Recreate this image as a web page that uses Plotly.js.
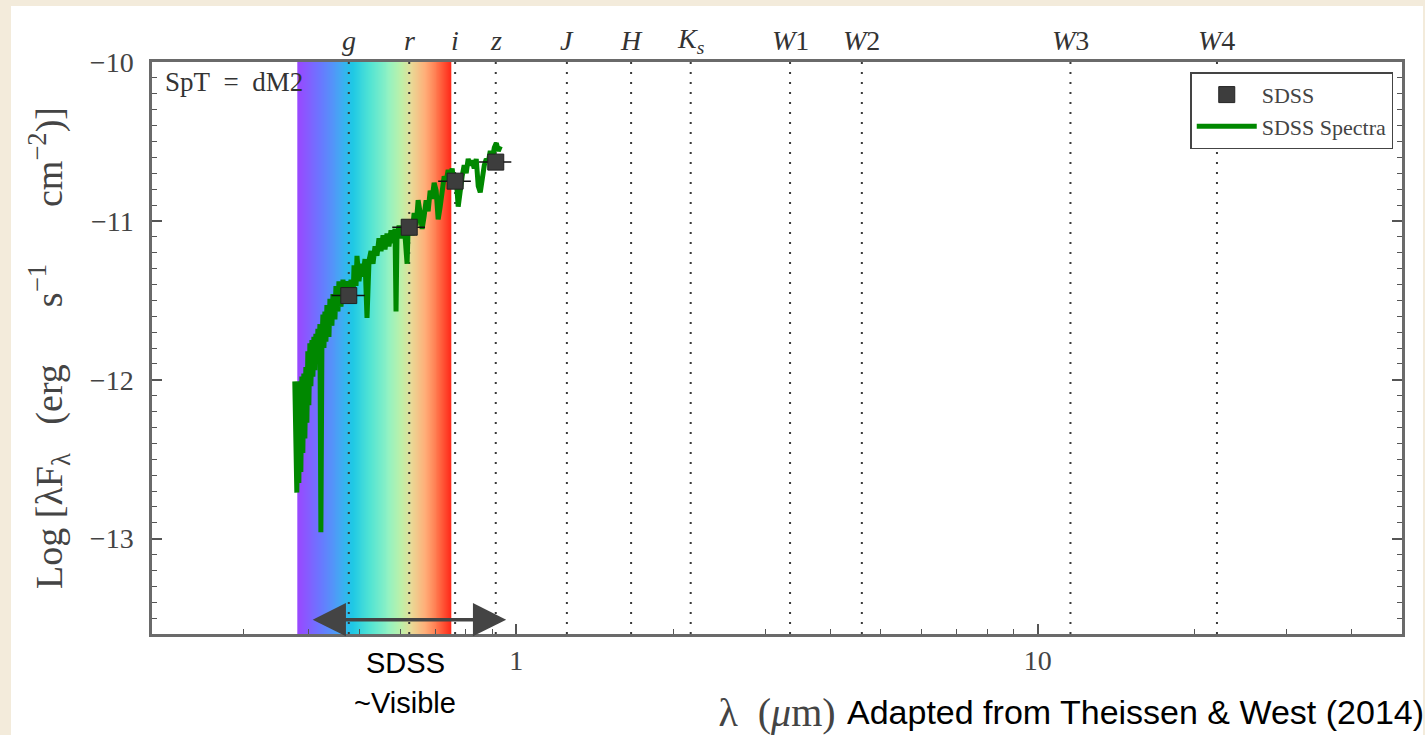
<!DOCTYPE html>
<html><head><meta charset="utf-8">
<script src="https://cdn.plot.ly/plotly-3.0.1.min.js"></script>
<style>
html,body{margin:0;padding:0;background:#f3ebdb;width:1425px;height:735px;overflow:hidden;}
#chart{position:absolute;left:11px;top:6px;width:1412px;height:729px;}
</style></head><body><div id="chart"></div>
<script>
// ---- data ----
const specWave = [0.3758,0.3775,0.3792,0.3809,0.3826,0.3843,0.3860,0.3877,0.3894,0.3911,0.3929,0.3946,0.3964,0.3981,0.3999,0.4017,0.4035,0.4053,0.4071,0.4089,0.4107,0.4125,0.4144,0.4162,0.4181,0.4199,0.4217,0.4236,0.4255,0.4274,0.4293,0.4312,0.4331,0.4370,0.4389,0.4428,0.4448,0.4487,0.4507,0.4547,0.4567,0.4608,0.4649,0.4690,0.4732,0.4774,0.4817,0.4860,0.4882,0.4925,0.4946,0.4990,0.5034,0.5079,0.5124,0.5170,0.5216,0.5262,0.5309,0.5356,0.5403,0.5451,0.5500,0.5549,0.5598,0.5647,0.5697,0.5748,0.5799,0.5851,0.5877,0.5903,0.5957,0.6010,0.6063,0.6117,0.6171,0.6198,0.6253,0.6310,0.6366,0.6423,0.6480,0.6537,0.6596,0.6654,0.6713,0.6773,0.6833,0.6894,0.6955,0.7017,0.7080,0.7143,0.7206,0.7270,0.7335,0.7400,0.7466,0.7531,0.7598,0.7666,0.7734,0.7803,0.7871,0.7941,0.8012,0.8083,0.8155,0.8228,0.8301,0.8376,0.8450,0.8526,0.8602,0.8679,0.8756,0.8834,0.8912,0.8991,0.9071,0.9152,0.9234,0.9316];
const specFlux = [-12.01,-12.58,-12.71,-12.14,-12.65,-12.01,-12.58,-11.98,-12.46,-11.96,-12.37,-11.92,-12.27,-11.82,-12.16,-11.77,-12.04,-11.75,-11.98,-11.73,-11.94,-11.71,-11.89,-11.68,-11.85,-11.65,-12.96,-11.79,-11.59,-11.80,-11.57,-11.76,-11.53,-11.73,-11.49,-11.66,-11.46,-11.62,-11.41,-11.57,-11.38,-11.54,-11.37,-11.51,-11.38,-11.49,-11.37,-11.51,-11.28,-11.41,-11.22,-11.38,-11.27,-11.35,-11.24,-11.61,-11.25,-11.19,-11.27,-11.16,-11.22,-11.11,-11.19,-11.09,-11.18,-11.08,-11.16,-11.06,-11.14,-11.05,-11.57,-11.09,-11.03,-11.11,-11.04,-11.10,-11.27,-11.06,-11.01,-11.09,-10.95,-11.03,-10.87,-10.95,-11.05,-10.97,-10.87,-10.94,-10.81,-10.86,-10.76,-10.81,-10.99,-10.91,-10.78,-10.72,-10.75,-10.68,-10.73,-10.67,-10.78,-10.73,-10.91,-10.78,-10.72,-10.65,-10.70,-10.61,-10.65,-10.62,-10.67,-10.61,-10.78,-10.82,-10.73,-10.65,-10.61,-10.63,-10.56,-10.61,-10.54,-10.51,-10.56,-10.53];
const sdssWave = [0.477, 0.623, 0.763, 0.913];
const sdssFlux = [-11.47, -11.04, -10.75, -10.63];
const sdssHalfWidth = [0.035, 0.045, 0.055, 0.065];
const bandNames = ['<i>g</i>','<i>r</i>','<i>i</i>','<i>z</i>','<i>J</i>','<i>H</i>','<i>K</i><sub><i>s</i></sub>','<i>W</i>1','<i>W</i>2','<i>W</i>3','<i>W</i>4'];
const bandWaves = [0.477, 0.623, 0.763, 0.913, 1.25, 1.66, 2.16, 3.35, 4.60, 11.56, 22.08];
const visibleRange = [0.38, 0.75];
const sdssCoverage = [0.404, 0.956];
const sdssCoverageLevel = -13.51;
const xRange = [0.2, 50];
const yRange = [-13.6, -10];
const rainbowStops = [[0,'#9a48ff'],[0.15,'#6a78ff'],[0.28,'#44a8f4'],[0.355,'#1ec8e6'],[0.47,'#50e4d4'],[0.59,'#90f2c4'],[0.68,'#c0f0a8'],[0.74,'#e8dc98'],[0.83,'#ffb07a'],[0.92,'#ff7048'],[1,'#ff2a1a']];

// ---- build ----
const nCols = 160;
const lo = Math.log10(visibleRange[0]), hi = Math.log10(visibleRange[1]);
const gx = [], gz = [];
for (let k = 0; k <= nCols; k++) gx.push(Math.pow(10, lo + (hi - lo) * k / nCols));
for (let k = 0; k < nCols; k++) gz.push(k / (nCols - 1));

const bx = [], by = [];
bandWaves.forEach(w => { bx.push(w, w, null); by.push(yRange[0], yRange[1], null); });

const minorX = [];
for (let d = -1; d <= 1; d++) for (let m = 2; m <= 9; m++) { const v = m * Math.pow(10, d); if (v >= xRange[0] && v <= xRange[1]) minorX.push(v); }

const traces = [
  {type:'heatmap', x:gx, y:yRange, z:[gz], colorscale:rainbowStops, zmin:0, zmax:1, showscale:false, hoverinfo:'skip', showlegend:false},
  {type:'scatter', mode:'lines', x:bx, y:by, line:{color:'#3a3a3a', width:2, dash:'2px,8px'}, hoverinfo:'skip', showlegend:false},
  {type:'scatter', mode:'lines', x:specWave, y:specFlux, name:'SDSS Spectra', line:{color:'#008800', width:5}, legendrank:2, legendgroup:'b'},
  {type:'scatter', mode:'markers', x:sdssWave, y:sdssFlux, name:'SDSS', legendrank:1, legendgroup:'a',
   marker:{symbol:'square', size:16, color:'#3d3d3d', line:{color:'#222', width:1}},
   error_x:{type:'data', array:sdssHalfWidth, color:'#111', thickness:1.5, width:0}}
];

const serif = 'Liberation Serif, Times New Roman, serif';
const sans = 'Liberation Sans, Arial, sans-serif';
const nb = n => '\u00a0'.repeat(n);

const annotations = bandNames.map((t, i) => ({
  x: Math.log10(bandWaves[i]), xref:'x', y:1.038, yref:'paper', text:t, showarrow:false,
  yanchor:'middle', font:{family:serif, size:28, color:'#333'}
}));
annotations.push({x:0.009, xref:'paper', y:0.965, yref:'paper', xanchor:'left', yanchor:'middle', showarrow:false,
  text:'SpT' + nb(2) + '=' + nb(2) + 'dM2', font:{family:serif, size:27, color:'#333'}});
annotations.push({x:Math.log10(sdssCoverage[1]), y:sdssCoverageLevel, xref:'x', yref:'y',
  ax:Math.log10(sdssCoverage[0]), ay:sdssCoverageLevel, axref:'x', ayref:'y', text:'', showarrow:true,
  arrowhead:2, arrowside:'end+start', arrowsize:1.9, arrowwidth:3.5, arrowcolor:'#444'});
annotations.push({x:0.2024, xref:'paper', y:-0.0507, yref:'paper', text:'SDSS', showarrow:false, xanchor:'center', yanchor:'middle', font:{family:sans, size:29, color:'#000'}});
annotations.push({x:0.2024, xref:'paper', y:-0.1206, yref:'paper', text:'~Visible', showarrow:false, xanchor:'center', yanchor:'middle', font:{family:sans, size:29, color:'#000'}});
annotations.push({x:0.5544, xref:'paper', y:-0.1364, yref:'paper', text:'Adapted from Theissen & West (2014)', showarrow:false, xanchor:'left', yanchor:'middle', font:{family:sans, size:34, color:'#000'}});

const layout = {
  width:1412, height:729,
  paper_bgcolor:'#ffffff', plot_bgcolor:'#ffffff',
  margin:{l:141, r:21, t:56, b:101},
  font:{family:serif, color:'#444'},
  showlegend:true,
  legend:{x:0.993, y:0.982, xanchor:'right', yanchor:'top', bgcolor:'#fff', bordercolor:'#444', borderwidth:1.5,
    font:{family:serif, size:22, color:'#444'}, itemwidth:60, tracegroupgap:0, traceorder:'grouped'},
  xaxis:{type:'log', range:[Math.log10(xRange[0]), Math.log10(xRange[1])], dtick:1, tick0:0,
    ticks:'inside', ticklen:10, tickwidth:1.5, tickcolor:'#555',
    minor:{tickmode:'array', tickvals:minorX, ticks:'inside', ticklen:5, tickwidth:1.2, tickcolor:'#555'},
    showline:true, linecolor:'#6a6a6a', linewidth:2.5, mirror:true, showgrid:false, zeroline:false,
    tickfont:{family:serif, size:28, color:'#444'}, ticklabelstandoff:0,
    title:{text:'λ' + nb(2) + '(<i>μ</i>m)', font:{family:serif, size:40, color:'#444'}, standoff:24}},
  yaxis:{range:yRange, dtick:1, tick0:-10, ticks:'inside', ticklen:10, tickwidth:1.5, tickcolor:'#555',
    minor:{dtick:0.1, ticks:'inside', ticklen:5, tickwidth:1.2, tickcolor:'#555'},
    showline:true, linecolor:'#6a6a6a', linewidth:2.5, mirror:'ticks', showgrid:false, zeroline:false,
    tickfont:{family:serif, size:28, color:'#444'}, ticklabelstandoff:10,
    title:{text:'Log' + nb(1) + '[λF<sub>λ</sub>' + nb(3) + '(erg' + nb(6) + 's<sup>−1</sup>' + nb(6) + 'cm<sup>−2</sup>)]',
      font:{family:serif, size:38, color:'#444'}, standoff:16}},
  annotations:annotations
};

Plotly.newPlot('chart', traces, layout, {displayModeBar:false, responsive:false});
</script></body></html>
